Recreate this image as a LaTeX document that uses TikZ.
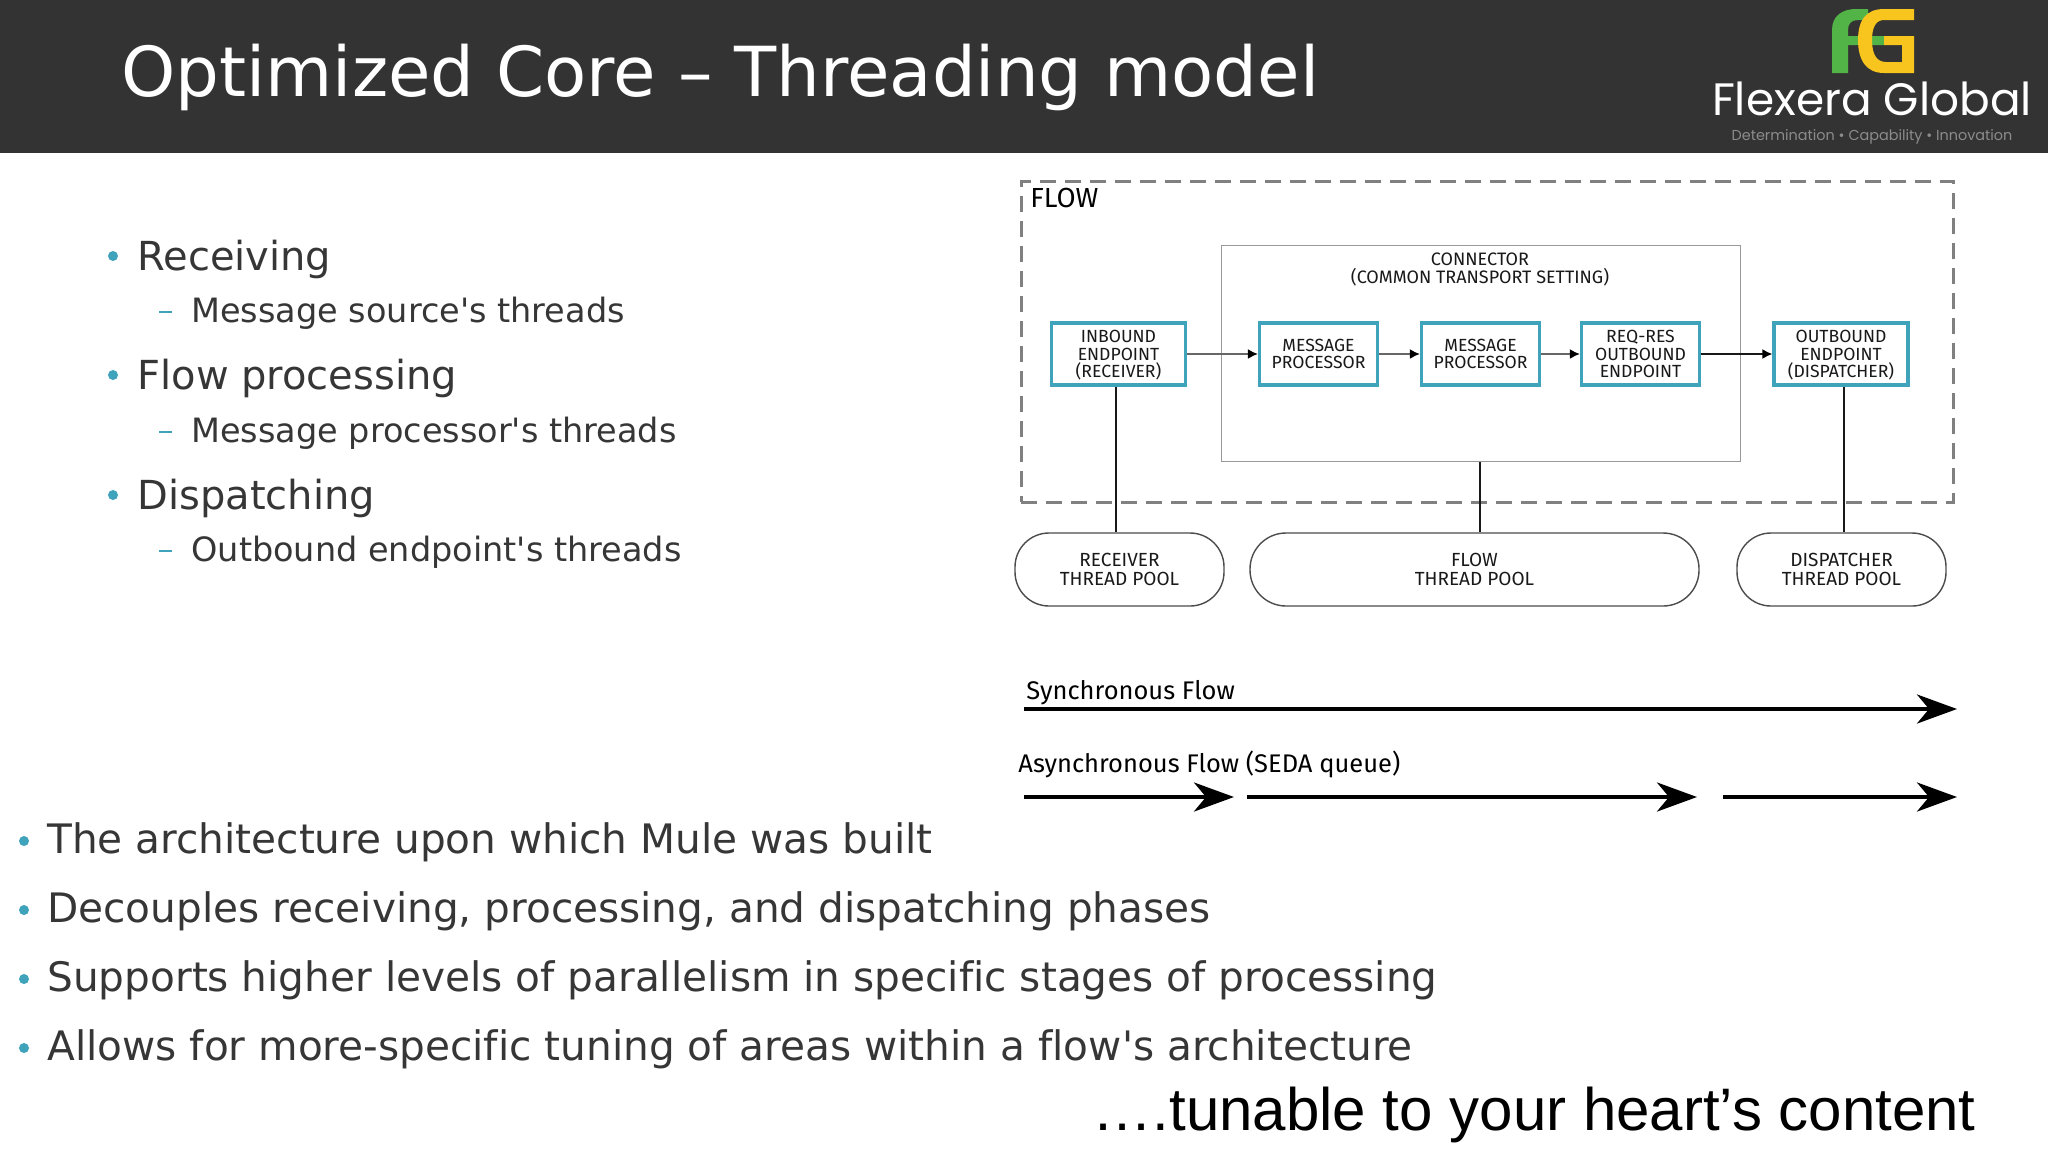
\documentclass[tikz,border=0pt]{standalone}
\usepackage{fontspec}
\setmainfont{DejaVu Sans}[Ligatures=NoCommon]
\newfontfamily\labelfont{Fira Sans}
\newfontfamily\arialfont{Liberation Sans}
\newfontfamily\logofont{Poppins}
\usetikzlibrary{arrows.meta}
\definecolor{headbar}{HTML}{333333}
\definecolor{teal}{HTML}{3FA3BC}
\definecolor{bodytext}{HTML}{363636}
\definecolor{dashgray}{HTML}{808080}
\definecolor{fgreen}{HTML}{52B447}
\definecolor{fyellow}{HTML}{F7C51E}
\newcommand{\fs}[1]{\fontsize{#1}{#1}\selectfont}
\tikzset{
  x=0.5pt,y=-0.5pt,
  procbox/.style={draw=teal,line width=1.6pt,fill=white,inner sep=0pt,align=center,font=\labelfont\fs{8.8},text=black!90,text depth=0pt},
  poolbox/.style={draw=black!70,line width=0.7pt,rounded corners=17pt,fill=white,inner sep=0pt,align=center,font=\labelfont\fs{9.5},text=black!90},
  thin link/.style={draw=black!90,line width=0.7pt},
  flow link/.style={draw=black!60,line width=0.9pt,-{Latex[black,length=5pt,width=5pt]}},
  dark flow link/.style={draw=black!90,line width=0.9pt,-{Latex[black,length=5pt,width=5pt]}},
  big arrow/.style={draw=black,line width=2.1pt,-{Stealth[length=20pt,width=14.5pt,inset=6pt]}},
  b1/.style={anchor=base west,inner sep=0pt,text=bodytext,font=\fs{20}},
  b2/.style={anchor=base west,inner sep=0pt,text=bodytext,font=\fs{16.75}},
  b3/.style={anchor=base west,inner sep=0pt,text=bodytext,font=\fs{20.3}},
  dotmark/.style={circle,fill=teal,inner sep=0pt,minimum size=5pt},
  dash bullet/.style={fill=teal,inner sep=0pt,minimum width=6.5pt,minimum height=1pt},
  caplabel/.style={anchor=base west,inner sep=0pt,font=\labelfont\fs{12.75},text=black},
}
\begin{document}
\begin{tikzpicture}
\useasboundingbox (0,0) rectangle (2048,1152);
\fill[white] (0,0) rectangle (2048,1152);
\fill[headbar] (0,0) rectangle (2048,153);
\node[anchor=base west,inner sep=0pt,text=white,font=\fs{34.5}] (title) at (121,96) {Optimized Core – Threading model};

% logo
\fill[fgreen] (1832,73) -- (1832,30) .. controls (1832,16) and (1842,9) .. (1856,9) -- (1868,9) -- (1868,20) -- (1858,20) .. controls (1851,20) and (1848,24) .. (1848,30) -- (1848,36) -- (1884,36) -- (1884,45) -- (1848,45) -- (1848,73) -- cycle;
\fill[fyellow] (1914,9) -- (1914,20) -- (1884,20) .. controls (1876,20) and (1872,27) .. (1872,40) .. controls (1872,55) and (1877,62) .. (1886,62) -- (1902,62) -- (1902,45) -- (1884,45) -- (1884,36) -- (1914,36) -- (1914,73) -- (1884,73) .. controls (1866,73) and (1858,60) .. (1858,40) .. controls (1858,20) and (1866,9) .. (1884,9) -- cycle;
\node[anchor=base,inner sep=0pt,text=white,font=\logofont\fs{22.7}] (logoname) at (1872,115) {Flexera Global};
\node[anchor=base,inner sep=0pt,text=black!45,font=\logofont\fs{7.2}] (logotag) at (1872,140) {Determination • Capability • Innovation};

% left list
\node[dotmark] (d1) at (113,256) {};
\node[b1] (t1) at (137,270) {Receiving};
\node[dash bullet] (m1) at (165,312) {};
\node[b2] (t2) at (191,322) {Message source\textquotesingle s threads};
\node[dotmark] (d2) at (113,375) {};
\node[b1] (t3) at (137,389) {Flow processing};
\node[dash bullet] (m2) at (165,432) {};
\node[b2] (t4) at (191,442) {Message processor\textquotesingle s threads};
\node[dotmark] (d3) at (113,495) {};
\node[b1] (t5) at (137,509) {Dispatching};
\node[dash bullet] (m3) at (165,551) {};
\node[b2] (t6) at (191,561) {Outbound endpoint\textquotesingle s threads};

% lower list
\node[dotmark] (d4) at (24,841) {};
\node[b3] (u1) at (47,853) {The architecture upon which Mule was built};
\node[dotmark] (d5) at (24,910) {};
\node[b3] (u2) at (47,922) {Decouples receiving, processing, and dispatching phases};
\node[dotmark] (d6) at (24,979) {};
\node[b3] (u3) at (47,991) {Supports higher levels of parallelism in specific stages of processing};
\node[dotmark] (d7) at (24,1048) {};
\node[b3] (u4) at (47,1060) {Allows for more-specific tuning of areas within a flow\textquotesingle s architecture};
\node[anchor=base east,inner sep=0pt,text=black,font=\arialfont\fs{30}] (tun) at (1976,1130) {….tunable to your heart’s content};

% diagram frames
\node[draw=dashgray,line width=1.4pt,dash pattern=on 8pt off 4.5pt,minimum width=466pt,minimum height=160.5pt,inner sep=0pt,anchor=north west] (flowframe) at (1020,180) {};
\node[anchor=base west,inner sep=0pt,font=\labelfont\fs{13.8},text=black] (flowlabel) at (1030,207) {FLOW};
\node[draw=black!40,line width=0.7pt,fill=white,minimum width=259.5pt,minimum height=108pt,inner sep=0pt,anchor=north west] (conn) at (1221,245) {};
\node[anchor=north,inner sep=0pt,align=center,font=\labelfont\fs{9},text=black!90] (connlabel) at (1480,252) {CONNECTOR\\[0.2pt](COMMON TRANSPORT SETTING)};

% process boxes
\node[procbox,minimum width=67pt,minimum height=31pt] (inb) at (1118.5,354) {INBOUND\\ENDPOINT\\(RECEIVER)};
\node[procbox,minimum width=59pt,minimum height=31pt] (mp1) at (1318.5,354) {MESSAGE\\PROCESSOR};
\node[procbox,minimum width=59pt,minimum height=31pt] (mp2) at (1480.5,354) {MESSAGE\\PROCESSOR};
\node[procbox,minimum width=59pt,minimum height=31pt] (req) at (1640.5,354) {REQ-RES\\OUTBOUND\\ENDPOINT};
\node[procbox,minimum width=67pt,minimum height=31pt] (outb) at (1841,354) {OUTBOUND\\ENDPOINT\\(DISPATCHER)};

% pools
\node[poolbox,minimum width=104.5pt,minimum height=36.5pt] (rp) at (1119.5,569.5) {RECEIVER\\THREAD POOL};
\node[poolbox,rounded corners=18pt,minimum width=224.5pt,minimum height=36.5pt] (fp) at (1474.5,569.5) {FLOW\\THREAD POOL};
\node[poolbox,minimum width=104.5pt,minimum height=36.5pt] (dp) at (1841.5,569.5) {DISPATCHER\\THREAD POOL};

% connectors
\draw[flow link] (inb) -- (mp1);
\draw[flow link] (mp1) -- (mp2);
\draw[flow link] (mp2) -- (req);
\draw[dark flow link] (req) -- (outb);
\draw[thin link] ([xshift=-1.2pt]inb.south) -- ([xshift=-1.2pt]inb.south |- rp.north);
\draw[thin link] ([xshift=-0.6pt]conn.south) -- ([xshift=-0.6pt]conn.south |- fp.north);
\draw[thin link] ([xshift=1.5pt]outb.south) -- ([xshift=1.5pt]outb.south |- dp.north);

% flow kinds
\node[caplabel] (sync) at (1026,699) {Synchronous Flow};
\node[caplabel] (async) at (1018,772) {Asynchronous Flow (SEDA queue)};
\coordinate (s0) at (1024,709); \coordinate (s1) at (1957,709);
\coordinate (a0) at (1024,797); \coordinate (a1) at (1234,797);
\coordinate (b0) at (1247,797); \coordinate (b1e) at (1697,797);
\coordinate (c0) at (1723,797); \coordinate (c1) at (1957,797);
\draw[big arrow] (s0) -- (s1);
\draw[big arrow] (a0) -- (a1);
\draw[big arrow] (b0) -- (b1e);
\draw[big arrow] (c0) -- (c1);
\end{tikzpicture}
\end{document}
